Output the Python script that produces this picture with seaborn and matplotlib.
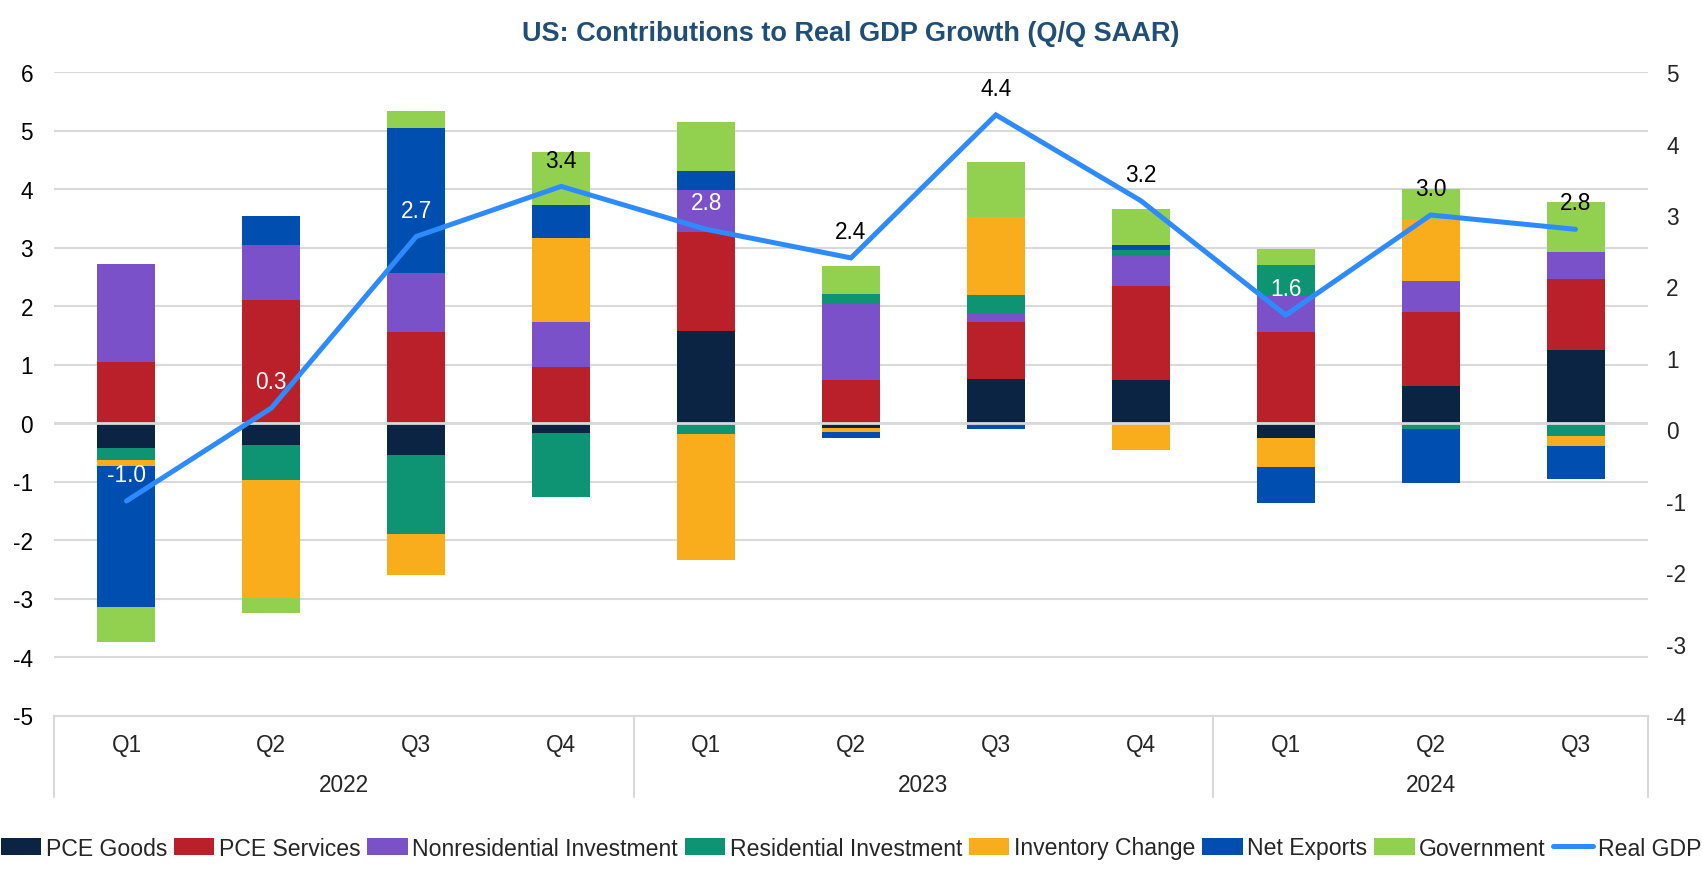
import numpy as np
import matplotlib
matplotlib.use("Agg")
import matplotlib.pyplot as plt
import matplotlib.transforms as mtransforms
from matplotlib.patches import Patch
from matplotlib.lines import Line2D
import seaborn as sns

# ---------------- data ----------------
quarters = ['Q1', 'Q2', 'Q3', 'Q4', 'Q1', 'Q2', 'Q3', 'Q4', 'Q1', 'Q2', 'Q3']
years = ['2022', '2023', '2024']
year_quarter_counts = [4, 4, 3]

pce_goods = [-0.42, -0.37, -0.54, -0.17, 1.58, -0.08, 0.76, 0.73, -0.25, 0.63, 1.24]
pce_services = [1.05, 2.10, 1.55, 0.95, 1.69, 0.73, 0.96, 1.61, 1.55, 1.26, 1.22]
nonres_investment = [1.66, 0.94, 1.01, 0.77, 0.71, 1.30, 0.15, 0.51, 0.62, 0.53, 0.46]
res_investment = [-0.22, -0.60, -1.35, -1.10, -0.18, 0.17, 0.31, 0.10, 0.53, -0.11, -0.22]
inventory_change = [-0.10, -2.02, -0.71, 1.44, -2.17, -0.07, 1.34, -0.47, -0.50, 1.06, -0.17]
net_exports = [-2.40, 0.49, 2.49, 0.56, 0.33, -0.10, -0.10, 0.09, -0.61, -0.91, -0.56]
government = [-0.60, -0.25, 0.28, 0.91, 0.83, 0.48, 0.94, 0.61, 0.28, 0.52, 0.85]
real_gdp = [-1.0, 0.3, 2.7, 3.4, 2.8, 2.4, 4.4, 3.2, 1.6, 3.0, 2.8]

series_names = ['PCE Goods', 'PCE Services', 'Nonresidential Investment',
                'Residential Investment', 'Inventory Change', 'Net Exports', 'Government']
series_values = [pce_goods, pce_services, nonres_investment, res_investment,
                 inventory_change, net_exports, government]

# ---------------- style ----------------
colors = ['#0B2444', '#BA2029', '#7B51CA', '#0F9473', '#FAAD1C', '#004EB0', '#92D050']
gdp_color = '#2E8BFF'
label_colors = ['white', 'white', 'white', 'black', 'white', 'black',
                'black', 'black', 'white', 'black', 'black']
grid_color = '#D9D9D9'
FS = 16.3

sns.set_theme(style="white")
plt.rcParams['font.family'] = ['Liberation Sans', 'DejaVu Sans']

fig = plt.figure(figsize=(17.02, 8.95), dpi=100)
ax_left, ax_right = 54 / 1702, 1648 / 1702
ax_top, ax_bottom = 1 - 73 / 895, 1 - 716.5 / 895
ax = fig.add_axes([ax_left, ax_bottom, ax_right - ax_left, ax_top - ax_bottom])

n = len(quarters)
idx = np.arange(n)
vals = np.array(series_values)
pos_cum = np.cumsum(np.clip(vals, 0, None), axis=0)
neg_cum = np.cumsum(np.clip(vals, None, 0), axis=0)

# overlay cumulative bars from outermost to innermost
for k in range(len(series_names) - 1, -1, -1):
    sns.barplot(x=idx, y=pos_cum[k], color=colors[k], saturation=1, width=0.4,
                errorbar=None, ax=ax, zorder=2, linewidth=0)
    sns.barplot(x=idx, y=neg_cum[k], color=colors[k], saturation=1, width=0.4,
                errorbar=None, ax=ax, zorder=2, linewidth=0)

ax.set_xlim(-0.5, n - 0.5)
ax.set_ylim(-5, 6)
ax.set_yticks(range(-5, 7))
ax.set_yticklabels([str(v) for v in range(-5, 7)], fontsize=FS)
ax.grid(axis='y', color=grid_color, lw=1.5)
ax.set_axisbelow(True)
ax.axhline(0, color=grid_color, lw=2, zorder=3)
ax.set_xticks([])
ax.set_xlabel('')
ax.set_ylabel('')
for s in ['left', 'right', 'top']:
    ax.spines[s].set_visible(False)
ax.spines['bottom'].set_color(grid_color)
ax.spines['bottom'].set_linewidth(1.5)
ax.tick_params(axis='y', length=0, pad=15, labelcolor='black')

# multi-level category labels
trans = mtransforms.blended_transform_factory(ax.transData, ax.transAxes)
for i, q in enumerate(quarters):
    ax.text(i, -0.0445, q, transform=trans, ha='center', va='center', fontsize=FS)
start = 0
bounds = [-0.5]
for y, c in zip(years, year_quarter_counts):
    ax.text(start + (c - 1) / 2, -0.1075, y, transform=trans, ha='center',
            va='center', fontsize=FS)
    start += c
    bounds.append(start - 0.5)
for b in bounds:
    ax.plot([b, b], [0, -0.127], transform=trans, color=grid_color, lw=1.5,
            clip_on=False)

# secondary axis: real GDP
ax2 = ax.twinx()
sns.lineplot(x=idx, y=real_gdp, ax=ax2, color=gdp_color, lw=3.6,
             solid_joinstyle='miter', solid_capstyle='round')
ax2.set_xlim(-0.5, n - 0.5)
ax2.set_ylim(-4, 5)
ax2.set_yticks(range(-4, 6))
ax2.set_yticklabels([str(v) for v in range(-4, 6)], fontsize=FS)
ax2.tick_params(axis='y', length=0, pad=13)
ax2.set_ylabel('')
for s in ['left', 'right', 'top', 'bottom']:
    ax2.spines[s].set_visible(False)
ax2.grid(False)

for i, v in enumerate(real_gdp):
    ax2.annotate(f'{v:.1f}', (i, v), xytext=(0, 19), textcoords='offset points',
                 ha='center', va='center', fontsize=FS, color=label_colors[i])

fig.suptitle('US: Contributions to Real GDP Growth (Q/Q SAAR)', x=0.5,
             y=1 - 34 / 895, va='center', fontsize=19.5, fontweight='bold',
             color='#1F4E79')

handles = [Patch(facecolor=c, edgecolor='none', label=nm)
           for c, nm in zip(colors, series_names)]
handles.append(Line2D([0], [0], color=gdp_color, lw=3.6, label='Real GDP',
                      solid_capstyle='round'))
fig.legend(handles=handles, loc='center', bbox_to_anchor=(0.5, 1 - 849 / 895),
           ncol=8, frameon=False, fontsize=FS + 0.3, handlelength=1.75,
           handleheight=0.8, handletextpad=0.2, columnspacing=0.3,
           borderaxespad=0, borderpad=0)

fig.savefig('out.png', dpi=100)
